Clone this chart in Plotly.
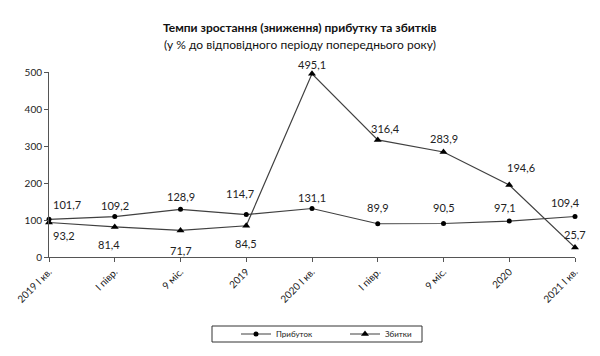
import plotly.graph_objects as go

tick_labels = ["2019 І кв.", "І півр.", "9 міс.", "2019", "2020 І кв.", "І півр.", "9 міс.", "2020", "2021 І кв."]
profit = [101.7, 109.2, 128.9, 114.7, 131.1, 89.9, 90.5, 97.1, 109.4]
losses = [93.2, 81.4, 71.7, 84.5, 495.1, 316.4, 283.9, 194.6, 25.7]
y_ticks = [0, 100, 200, 300, 400, 500]

x_idx = list(range(len(tick_labels)))

# label offsets (pixels) - style only
profit_shift = [(18, 15), (0, 11), (0, 13), (-6, 21), (0, 11), (0, 16), (0, 16), (-4, 14), (-10, 14)]
losses_shift = [(15, -13), (-6, -18), (0, -20), (0, -18), (0, 9), (8, 11), (0, 13), (12, 18), (0, 13)]

FONT = "Lato, 'Open Sans', sans-serif"
LINE = "#404040"
L, R, T, B = 49, 25, 72, 99
PW, PH = 600 - L - R, 356 - T - B


def px_x(px):
    return (px - L) / PW


def px_y(py):
    return (356 - B - py) / PH


fig = go.Figure()
fig.add_trace(go.Scatter(
    x=x_idx, y=profit, name="Прибуток", mode="lines+markers",
    line=dict(color=LINE, width=1.2),
    marker=dict(symbol="circle", size=5, color="black"),
    cliponaxis=False,
))
fig.add_trace(go.Scatter(
    x=x_idx, y=losses, name="Збитки", mode="lines+markers",
    line=dict(color=LINE, width=1.2),
    marker=dict(symbol="triangle-up", size=7, color="black"),
    cliponaxis=False,
))


def fmt(v):
    return f"{v:.1f}".replace(".", ",")


for series, shifts in ((profit, profit_shift), (losses, losses_shift)):
    for i, v in enumerate(series):
        dx, dy = shifts[i]
        fig.add_annotation(
            x=x_idx[i], y=v, text=fmt(v), showarrow=False,
            xshift=dx, yshift=dy, font=dict(family=FONT, size=11, color="#222"),
        )

fig.add_annotation(
    xref="paper", yref="paper", x=px_x(300), y=px_y(27), xanchor="center", yanchor="middle",
    text="<b>Темпи зростання (зниження) прибутку та збитків</b>",
    showarrow=False, font=dict(family=FONT, size=12, color="#111"),
)
fig.add_annotation(
    xref="paper", yref="paper", x=px_x(300), y=px_y(45), xanchor="center", yanchor="middle",
    text="(у % до відповідного періоду попереднього року)",
    showarrow=False, font=dict(family=FONT, size=12, color="#111"),
)

# legend border
fig.add_shape(
    type="rect", xref="paper", yref="paper",
    x0=px_x(212), x1=px_x(422), y0=px_y(342), y1=px_y(326),
    line=dict(color="#333", width=1), fillcolor="rgba(0,0,0,0)",
)

fig.update_layout(
    width=600, height=356,
    margin=dict(l=L, r=R, t=T, b=B, autoexpand=False),
    paper_bgcolor="white", plot_bgcolor="white",
    font=dict(family=FONT, color="#222"),
    showlegend=True,
    legend=dict(
        orientation="h", x=px_x(236), xanchor="left",
        y=px_y(334), yanchor="middle",
        font=dict(family=FONT, size=8, color="#222"),
        bgcolor="rgba(0,0,0,0)", itemwidth=30, entrywidth=64,
    ),
    xaxis=dict(
        range=[0, len(tick_labels) - 1], tickmode="array", tickvals=x_idx, ticktext=tick_labels,
        tickangle=-45, showgrid=False, zeroline=False, showline=True, linecolor="#555", linewidth=1,
        ticks="outside", ticklen=4, tickcolor="#555", tickfont=dict(family=FONT, size=10, color="#222"),
        automargin=False,
    ),
    yaxis=dict(
        range=[0, 500], tickvals=y_ticks, showgrid=False, zeroline=False, showline=True,
        linecolor="#555", linewidth=1, ticks="outside", ticklen=4, tickcolor="#555",
        tickfont=dict(family=FONT, size=10, color="#222"), automargin=False,
    ),
)

fig.write_html(
    "out.html",
    config={"displayModeBar": False},
    post_script="document.body.style.margin='0px';",
)
